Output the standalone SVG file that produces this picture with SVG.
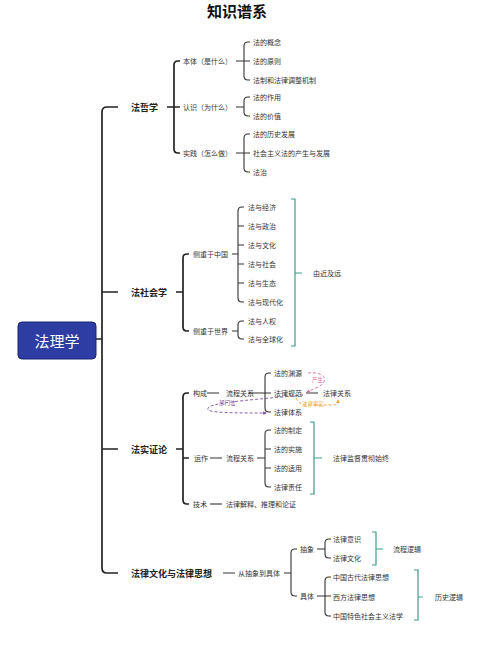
<svg xmlns="http://www.w3.org/2000/svg" width="500" height="653" viewBox="0 0 500 653">
<defs>
<style>
text{font-family:"Noto Sans CJK SC","Noto Sans",sans-serif;fill:#333;dominant-baseline:central}
.t{font-size:15px;font-weight:bold;fill:#111}
.l1{font-size:9px;font-weight:bold;fill:#222}
.s{font-size:7px}
.c{fill:none;stroke:#222;stroke-width:1.7;stroke-linejoin:round}
.c2{fill:none;stroke:#333;stroke-width:1.1}
.tl{fill:none;stroke:#3a9e8e;stroke-width:1.2}
.dp{fill:none;stroke:#d9709e;stroke-width:0.9;stroke-dasharray:3 2}
.do{fill:none;stroke:#f0a23a;stroke-width:0.9;stroke-dasharray:3 2}
.dv{fill:none;stroke:#7a4fa3;stroke-width:0.9;stroke-dasharray:3 2}
.a{font-size:5.5px}
</style>
<marker id="mp" viewBox="0 0 10 10" refX="8" refY="5" markerWidth="4" markerHeight="4" orient="auto"><path d="M0,0L10,5L0,10z" fill="#d9709e"/></marker>
<marker id="mo" viewBox="0 0 10 10" refX="8" refY="5" markerWidth="4" markerHeight="4" orient="auto"><path d="M0,0L10,5L0,10z" fill="#f0a23a"/></marker>
<marker id="mv" viewBox="0 0 10 10" refX="8" refY="5" markerWidth="4" markerHeight="4" orient="auto"><path d="M0,0L10,5L0,10z" fill="#7a4fa3"/></marker>
</defs>
<rect width="500" height="653" fill="#fff"/>
<text class="t" x="237" y="10" text-anchor="middle">知识谱系</text>

<g id="connectors">
<path class="c" d="M96,339H102M118,107H107Q102,107 102,112V568Q102,573 107,573H118M102,292H118M102,449H118"/>
<path class="c" d="M167,107H180M180,61H178Q174,61 174,65V149Q174,153 178,153H180"/>
<path class="c2" d="M236,61H250M250,42H248Q244,42 244,46V76Q244,80 248,80H250"/>
<path class="c2" d="M236,107H244M250,97H248Q244,97 244,101V112Q244,116 248,116H250"/>
<path class="c2" d="M236,153H250M250,134H248Q244,134 244,138V168Q244,172 248,172H250"/>
<path class="c" d="M176,292H183M189,254H187Q183,254 183,258V327Q183,331 187,331H189"/>
<path class="c2" d="M232,254H238M244,207H242Q238,207 238,211V298Q238,302 242,302H244M238,226H244M238,245H244M238,264H244M238,283H244"/>
<path class="c2" d="M232,331H238M244,321H242Q238,321 238,325V335Q238,339 242,339H244"/>
<path class="tl" d="M291,199H295V346H291M295,273H302"/>
<path class="c" d="M176,449H183M189,393H187Q183,393 183,397V500Q183,504 187,504H189M183,458H189"/>
<path class="c2" d="M207,393H219M249,393H271M271,373H269Q265,373 265,377V408Q265,412 269,412H271M306,393H318"/>
<path class="c2" d="M210,458H222M257,458H265M271,430H269Q265,430 265,434V483Q265,487 269,487H271M265,449H271M265,468H271"/>
<path class="tl" d="M310,422H314V494H310M314,458H322"/>
<path class="c2" d="M210,504H222"/>
<path class="c2" d="M223,573H235M284,573H291M297,549H295Q291,549 291,553V592Q291,596 295,596H297"/>
<path class="c2" d="M317,549H325M331,539H329Q325,539 325,543V554Q325,558 329,558H331"/>
<path class="c2" d="M317,596H331M331,577H329Q325,577 325,581V612Q325,616 329,616H331"/>
<path class="tl" d="M372,532H376V565H372M376,549H383"/>
<path class="tl" d="M414,570H418V620H414M418,597H423"/>
<path class="dp" d="M308,373C322,371 330,379 320,386L307,392" marker-end="url(#mp)"/>
<path class="do" d="M296,398Q299,405 308,405H333Q338,405 338,400" marker-end="url(#mo)"/>
<path class="dv" d="M303,395C262,399 216,402 209,407C204,412 214,413 266,413" marker-end="url(#mv)"/>
</g>

<g id="n-root"><rect x="18" y="322" width="78" height="37" rx="4" fill="#2d3da3" stroke="#1b2672" stroke-width="1"/><text x="57" y="340.5" text-anchor="middle" style="font-size:15px;fill:#fff">法理学</text></g>

<g id="n-fzx"><text class="l1" x="131" y="107">法哲学</text></g>
<g id="n-bt"><text class="s" x="183" y="61">本体（是什么）</text></g>
<g id="n-rs"><text class="s" x="183" y="107">认识（为什么）</text></g>
<g id="n-sj"><text class="s" x="183" y="153">实践（怎么做）</text></g>
<g id="n-fzx-l3">
<text class="s" x="253" y="42">法的概念</text>
<text class="s" x="253" y="61">法的原则</text>
<text class="s" x="253" y="80">法制和法律调整机制</text>
<text class="s" x="253" y="97">法的作用</text>
<text class="s" x="253" y="116">法的价值</text>
<text class="s" x="253" y="134">法的历史发展</text>
<text class="s" x="253" y="153">社会主义法的产生与发展</text>
<text class="s" x="253" y="172">法治</text>
</g>

<g id="n-fshx"><text class="l1" x="131" y="292">法社会学</text></g>
<g id="n-zg"><text class="s" x="193" y="254">侧重于中国</text></g>
<g id="n-sjie"><text class="s" x="193" y="331">侧重于世界</text></g>
<g id="n-fshx-l3">
<text class="s" x="248" y="207">法与经济</text>
<text class="s" x="248" y="226">法与政治</text>
<text class="s" x="248" y="245">法与文化</text>
<text class="s" x="248" y="264">法与社会</text>
<text class="s" x="248" y="283">法与生态</text>
<text class="s" x="248" y="302">法与现代化</text>
<text class="s" x="248" y="321">法与人权</text>
<text class="s" x="248" y="339">法与全球化</text>
</g>
<g id="n-yjjy"><text class="s" x="313" y="273">由近及远</text></g>

<g id="n-fszl"><text class="l1" x="131" y="449">法实证论</text></g>
<g id="n-gc"><text class="s" x="193" y="393">构成</text><text class="s" x="226" y="393">流程关系</text></g>
<g id="n-gc-l3">
<text class="s" x="274" y="373">法的渊源</text>
<text class="s" x="274" y="393">法律规范</text>
<text class="s" x="274" y="412">法律体系</text>
<text class="s" x="323" y="393">法律关系</text>
</g>
<g id="n-ann">
<text class="a" x="312" y="380" style="fill:#d9709e">产生</text>
<text class="a" x="302" y="404" style="fill:#f0a23a">法律事实</text>
<text class="a" x="219" y="403" style="fill:#7a4fa3">部门法</text>
</g>
<g id="n-yz"><text class="s" x="194" y="458">运作</text><text class="s" x="226" y="458">流程关系</text></g>
<g id="n-yz-l3">
<text class="s" x="274" y="430">法的制定</text>
<text class="s" x="274" y="449">法的实施</text>
<text class="s" x="274" y="468">法的适用</text>
<text class="s" x="274" y="487">法律责任</text>
</g>
<g id="n-jd"><text class="s" x="333" y="458">法律监督贯彻始终</text></g>
<g id="n-js"><text class="s" x="193" y="504">技术</text><text class="s" x="226" y="504">法律解释、推理和论证</text></g>

<g id="n-whsx"><text class="l1" x="131" y="573">法律文化与法律思想</text></g>
<g id="n-cxjt"><text class="s" x="238" y="573">从抽象到具体</text></g>
<g id="n-cx"><text class="s" x="300" y="549">抽象</text></g>
<g id="n-jt"><text class="s" x="300" y="596">具体</text></g>
<g id="n-whsx-l3">
<text class="s" x="333" y="539">法律意识</text>
<text class="s" x="333" y="558">法律文化</text>
<text class="s" x="333" y="577">中国古代法律思想</text>
<text class="s" x="333" y="597">西方法律思想</text>
<text class="s" x="333" y="616">中国特色社会主义法学</text>
</g>
<g id="n-lclj"><text class="s" x="393" y="549">流程逻辑</text></g>
<g id="n-lslj"><text class="s" x="435" y="597">历史逻辑</text></g>
</svg>
